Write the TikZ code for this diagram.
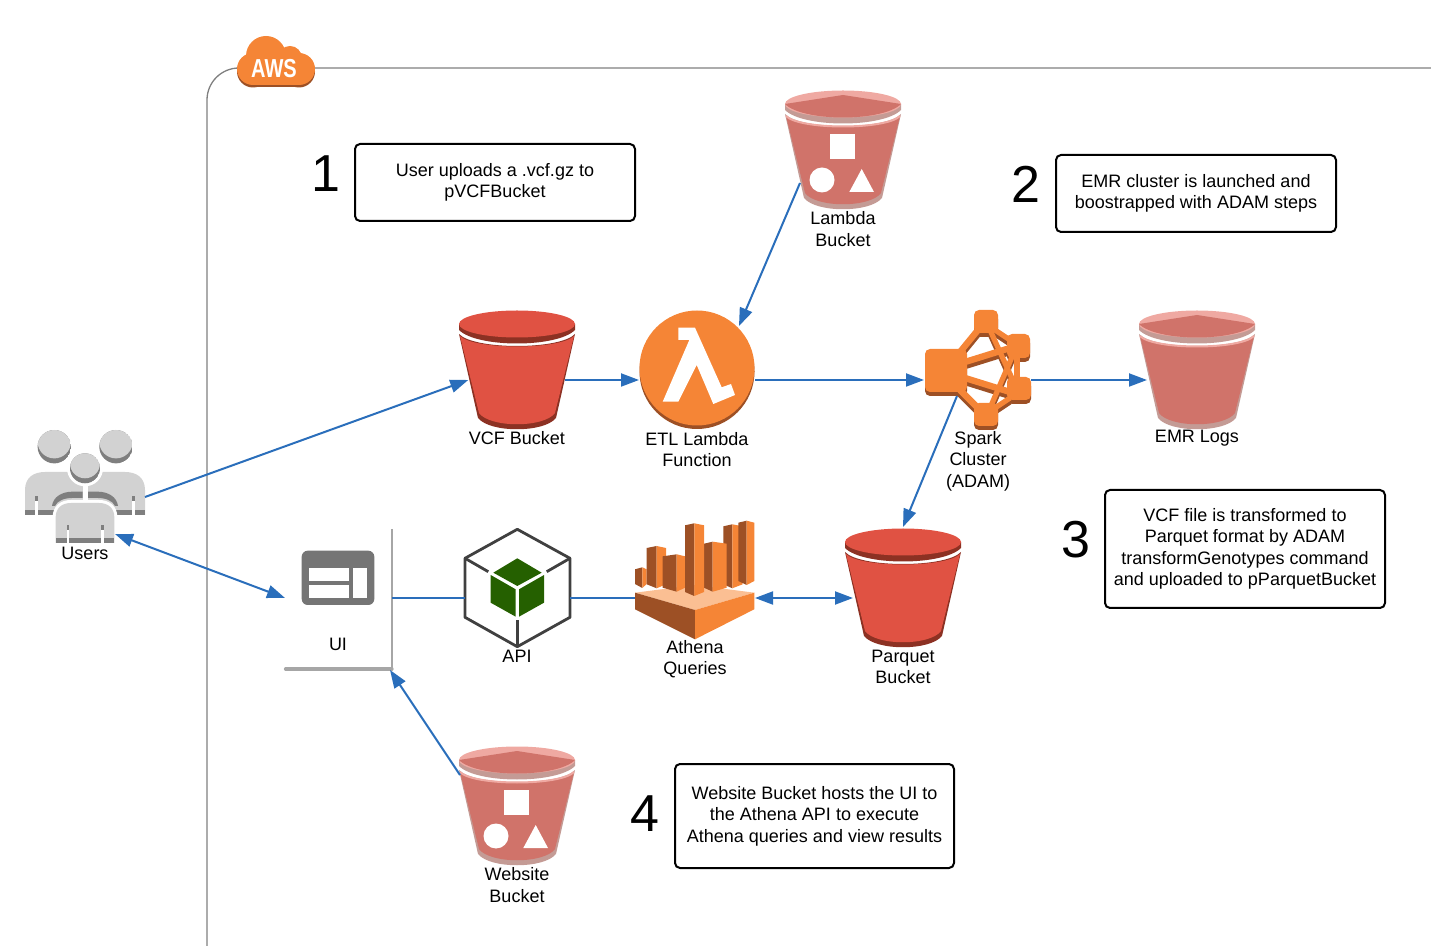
\documentclass[tikz,border=0pt]{standalone}
\usepackage{fontspec}
\setmainfont{Liberation Sans}
\usetikzlibrary{arrows.meta}

\definecolor{awsorange}{HTML}{F58536}
\definecolor{awsbrown}{HTML}{9D5025}
\definecolor{awspeach}{HTML}{FBBF93}
\definecolor{redlid}{HTML}{E05243}
\definecolor{redband}{HTML}{8C3123}
\definecolor{palelid}{HTML}{D0736A}
\definecolor{palerim}{HTML}{EFA9A2}
\definecolor{paleband}{HTML}{C49B95}
\definecolor{linkblue}{HTML}{2A6EBB}
\definecolor{usergrey}{HTML}{D2D2D2}
\definecolor{userdark}{HTML}{7F7F7F}
\definecolor{cubegreen}{HTML}{256000}

\tikzset{
  link/.style={draw=linkblue, line width=1pt},
  tip/.style={link, -{Triangle[length=9pt,width=6.5pt]}},
  tiptwo/.style={link, {Triangle[length=9pt,width=6.5pt]}-{Triangle[length=9pt,width=6.5pt]}},
  hub/.style={inner sep=0pt, outer sep=0pt, minimum width=#1, minimum height=10pt},
  label/.style={font=\fontsize{9}{10.75}\selectfont, align=center, inner sep=0pt},
  notebox/.style={draw=black, line width=1pt, rounded corners=2.5pt, fill=white, inner sep=0pt,
    font=\fontsize{9}{10.75}\selectfont, align=center},
  stepnum/.style={font=\fontsize{26}{26}\selectfont, inner sep=0pt}
}

% lid and body of a bucket, centred on x = #1 with its top at y = #2
\newcommand{\bucketbase}[5]{
\begin{scope}[shift={(#1,#2)}]
\fill[#4] (-58,14) -- (-58,20) .. controls (-40,38) and (40,38) .. (58,20) -- (58,14) -- cycle;
\fill[#3] (0,14) ellipse [x radius=58, y radius=13.5];
\fill[#4] (-58,24) -- (-39,108) .. controls (-27,123) and (27,123) .. (39,108) -- (58,24)
  .. controls (43,40) and (-43,40) .. (-58,24) -- cycle;
\fill[#5] (-57,26) -- (-38,103) .. controls (-27,118) and (27,118) .. (38,103) -- (57,26)
  .. controls (43,40) and (-43,40) .. (-57,26) -- cycle;
\end{scope}
}
\newcommand{\redbucket}[2]{\bucketbase{#1}{#2}{redlid}{redband}{redlid}}
\newcommand{\palebucket}[2]{
\bucketbase{#1}{#2}{palerim}{paleband}{palelid}
\begin{scope}[shift={(#1,#2)}]
\fill[palelid] (-58,14) -- (0,5) -- (58,14) .. controls (40,32) and (-40,32) .. (-58,14) -- cycle;
\draw[palerim, line width=1pt] (-57,26) .. controls (-43,40) and (43,40) .. (57,26);
\end{scope}
}
% the three white marks on a pale bucket
\newcommand{\bucketmarks}[2]{
\begin{scope}[shift={(#1,#2)}]
\fill[white] (-13.5,44) rectangle (11.5,69);
\fill[white] (-21,90) circle (12.5);
\fill[white] (6.3,102) -- (31,102) -- (18.7,79) -- cycle;
\end{scope}
}
% one head of the users icon
\newcommand{\userhead}[3]{
\begin{scope}
\clip (#1,#2) circle (#3);
\fill[userdark] (#1,#2) circle (#3);
\fill[usergrey] (#1,#2-5) circle (#3);
\end{scope}
}
% one bar of the athena icon
\newcommand{\athenabar}[5]{
\fill[awsbrown] (#1,#4+2) -- (#2,#4) -- (#2,#5) -- (#1,#5-4) -- cycle;
\fill[awsorange] (#2,#4) -- (#3,#4+2) -- (#3,#5-4) -- (#2,#5) -- cycle;
}
% nodes and links of the spark icon
\newcommand{\sparkparts}[1]{
\fill[#1, rounded corners=2.5pt] (925,349) rectangle (967,392);
\fill[#1, rounded corners=2.5pt] (974,310) rectangle (998,333);
\fill[#1, rounded corners=2.5pt] (1007,334) rectangle (1030,358);
\fill[#1, rounded corners=2.5pt] (1007,377) rectangle (1031,400);
\fill[#1, rounded corners=2.5pt] (974,403) rectangle (998,426);
\draw[#1, line width=3.2pt] (960,352) -- (978,330);
\draw[#1, line width=3.2pt] (960,390) -- (978,408);
\draw[#1, line width=3.2pt] (965,362) -- (1010,348);
\draw[#1, line width=3.2pt] (965,378) -- (1010,392);
\draw[#1, line width=2.6pt] (995,330) -- (1010,340);
\draw[#1, line width=2.6pt] (990,330) -- (1015,385);
\draw[#1, line width=2.6pt] (990,408) -- (1015,350);
\draw[#1, line width=2.6pt] (995,408) -- (1010,398);
\draw[#1, line width=2.6pt] (1017,350) -- (1017,385);
}

\begin{document}
\begin{tikzpicture}[x=0.5pt, y=-0.5pt]
\useasboundingbox (0,0) rectangle (1431,946);

% aws frame and cloud
\draw[userdark, line width=0.65pt, rounded corners=16pt] (207,946) -- (207,68) -- (1431,68);
\begin{scope}[shift={(0,2.5)}]
\fill[awsbrown] (253,69) circle (16);
\fill[awsbrown] (299,69) circle (16);
\fill[awsbrown] (253,70) rectangle (299,85);
\end{scope}
\fill[awsorange] (253,69) circle (16);
\fill[awsorange] (299,69) circle (16);
\fill[awsorange] (266,56) circle (20);
\fill[awsorange] (290,58) circle (12);
\fill[awsorange] (253,53) rectangle (299,85);
\node[text=white, inner sep=0pt, font=\fontsize{13}{13}\selectfont\bfseries] (awstext) at (274,68.5) {\scalebox{0.77}[1]{AWS}};

% users
\userhead{54.3}{446.7}{16.7}
\userhead{116}{446.7}{16.7}
\fill[usergrey] (25,515) -- (25,490) .. controls (25,478) and (33,472) .. (45,472) -- (125,472)
  .. controls (137,472) and (145,478) .. (145,490) -- (145,515) -- cycle;
\fill[userdark] (25,510) rectangle (145,515);
\fill[white] (35,501) rectangle (37.7,515);
\fill[userdark] (35,496) rectangle (37.7,501);
\fill[white] (132.3,501) rectangle (135,515);
\fill[userdark] (132.3,496) rectangle (135,501);
\fill[userdark] (52,506) .. controls (53,497) and (62,491.7) .. (72,491.7) -- (82.5,491.7) -- (82.5,498)
  -- (72,498) .. controls (64,498) and (57,501) .. (55,506) -- cycle;
\fill[userdark] (118,506) .. controls (117,497) and (108,491.7) .. (98,491.7) -- (87.5,491.7) -- (87.5,498)
  -- (98,498) .. controls (106,498) and (113,501) .. (115,506) -- cycle;
\fill[white] (82.5,480) rectangle (87.5,500);
\fill[white] (85,468.3) circle (18);
\userhead{85}{468.3}{15}
\path[preaction={draw=white, line width=3pt}, fill=usergrey] (55.7,543) -- (55.7,517) .. controls (55.7,508) and (62,503) .. (71,503)
  -- (99,503) .. controls (108,503) and (114.3,508) .. (114.3,517) -- (114.3,543) -- cycle;
\fill[userdark] (55.7,538.5) rectangle (114.3,543);
\fill[white] (66.5,530) rectangle (69,543);
\fill[userdark] (66.5,525) rectangle (69,530);
\fill[white] (101,530) rectangle (103.7,543);
\fill[userdark] (101,525) rectangle (103.7,530);

% ui card
\draw[black!35, line width=1pt] (392,529) -- (392,669);
\draw[black!35, line width=1.6pt, line cap=round] (285.5,669) -- (392,669);
\fill[black!54, rounded corners=3pt] (301.7,550.7) rectangle (374.3,605);
\fill[white] (309.3,568.3) rectangle (349,581);
\fill[white] (309.3,585) rectangle (349,598.3);
\fill[white] (352.7,568.3) rectangle (367,598.3);

% buckets
\redbucket{517}{310}
\redbucket{903}{528}
\palebucket{843}{90}
\bucketmarks{843}{90}
\palebucket{517}{746}
\bucketmarks{517}{746}
\palebucket{1197}{310}

% etl lambda
\fill[awsbrown] (697,371.5) circle (57.5);
\fill[awsorange] (697,368) circle (57.5);
\fill[white] (678.3,327.7) -- (695,327.7) -- (721.7,387.3) -- (731,384) -- (735,395) -- (713.3,404)
  -- (696.7,365) -- (678.3,401.7) -- (662.7,401.7) -- (689.3,340) -- (678.3,340) -- cycle;

% spark
\begin{scope}[shift={(0,4)}]
\sparkparts{awsbrown}
\end{scope}
\sparkparts{awsorange}

% api
\draw[black!75, line width=1.4pt, line join=round] (517.3,529.3) -- (570,558.3) -- (570,617.3) -- (517.3,646.7)
  -- (465,617.3) -- (465,558.3) -- cycle;
\draw[black!75, line width=1.4pt] (465,558.3) -- (488.3,571.7);
\draw[black!75, line width=1.4pt] (570,558.3) -- (546.7,571.7);
\draw[black!75, line width=1.4pt] (517.3,646.7) -- (517.3,620);
\fill[cubegreen] (517.3,558.3) -- (541.7,572.7) -- (517.3,586) -- (493.3,572.7) -- cycle;
\fill[cubegreen] (490.7,575) -- (515.7,589.3) -- (515.7,616.7) -- (490.7,602.7) -- cycle;
\fill[cubegreen] (519,589.3) -- (544,575) -- (544,602.7) -- (519,616.7) -- cycle;

% athena
\fill[awspeach] (635,592.7) -- (695,585) -- (754.3,592.7) -- (695,610) -- cycle;
\fill[awsbrown] (635,592.7) -- (695,610) -- (695,639.3) -- (635,609.3) -- cycle;
\fill[awsorange] (695,610) -- (754.3,592.7) -- (754.3,609.3) -- (695,639.3) -- cycle;
\athenabar{635}{642.3}{646.7}{567.3}{588}
\athenabar{646.7}{656.7}{666}{546}{588.3}
\athenabar{662.7}{676.7}{685}{554.3}{591.7}
\athenabar{723.3}{732.3}{742.7}{524.3}{588.3}
\athenabar{738.3}{746.7}{754.3}{520.7}{585}
\athenabar{704}{712.7}{726.7}{541.7}{591.7}
\athenabar{685}{694.3}{704}{523.3}{596}

% places the links attach to
\node[hub=60pt] (users) at (85,497) {};
\node[hub=53.5pt, minimum height=72pt] (ui) at (338.5,598) {};
\node[hub=48.5pt] (vcf) at (516.75,380) {};
\node[hub=58pt] (etl) at (697,380) {};
\node[hub=53.5pt] (spark) at (977.5,380) {};
\node[hub=50pt] (emr) at (1197,380) {};
\node[hub=52.5pt] (api) at (517.5,598) {};
\node[hub=60pt] (athena) at (695,598) {};
\node[hub=50pt, minimum height=71pt] (parquet) at (903,598) {};
\coordinate (usersfoot) at (115,534);
\coordinate (lambdaout) at (800,183);
\coordinate (etlrim) at (739,326);
\coordinate (sparkfoot) at (957,396);
\coordinate (websiteout) at (460,775);

% links
\draw[tip] (users.east) -- (vcf.west);
\draw[tiptwo] (usersfoot) -- (ui.west);
\draw[tip] (vcf.east) -- (etl.west);
\draw[tip] (lambdaout) -- (etlrim);
\draw[tip] (etl.east) -- (spark.west);
\draw[tip] (spark.east) -- (emr.west);
\draw[tip] (sparkfoot) -- (parquet.north);
\draw[link] (ui.east) -- (api.west);
\draw[link] (api.east) -- (athena.west);
\draw[tiptwo] (athena.east) -- (parquet.west);
\draw[tip] (websiteout) -- ([xshift=-1pt]ui.south east);

% labels
\node[label] (userslabel) at (85,553.5) {Users};
\node[label] (uilabel) at (338,644.5) {UI};
\node[label] (apilabel) at (517,656) {API};
\node[label] (vcflabel) at (517,438) {VCF Bucket};
\node[label] (etllabel) at (697,449.5) {ETL Lambda\\Function};
\node[label] (sparklabel) at (978,461) {Spark\\Cluster\\(ADAM)};
\node[label] (emrlabel) at (1197,438) {EMR Logs};
\node[label] (lambdalabel) at (843,229) {Lambda\\Bucket};
\node[label] (athenalabel) at (695,659) {Athena\\Queries};
\node[label] (parquetlabel) at (903,667) {Parquet\\Bucket};
\node[label] (websitelabel) at (517,885) {Website\\Bucket};

% numbered notes
\node[stepnum] (num1) at (325.5,173.5) {1};
\node[stepnum] (num2) at (1026,184) {2};
\node[stepnum] (num3) at (1076,540) {3};
\node[stepnum] (num4) at (645,814) {4};
\node[notebox, minimum width=140pt, minimum height=38.5pt] (note1) at (495,182.5) {User uploads a .vcf.gz to\\pVCFBucket};
\node[notebox, minimum width=140pt, minimum height=38.5pt] (note2) at (1196,193.5) {EMR cluster is launched and\\boostrapped with ADAM steps};
\node[notebox, minimum width=140pt, minimum height=59pt] (note3) at (1245,549) {VCF file is transformed to\\Parquet format by ADAM\\transformGenotypes command\\and uploaded to pParquetBucket};
\node[notebox, minimum width=139.5pt, minimum height=52pt] (note4) at (814.5,816) {Website Bucket hosts the UI to\\the Athena API to execute\\Athena queries and view results};
\end{tikzpicture}
\end{document}
